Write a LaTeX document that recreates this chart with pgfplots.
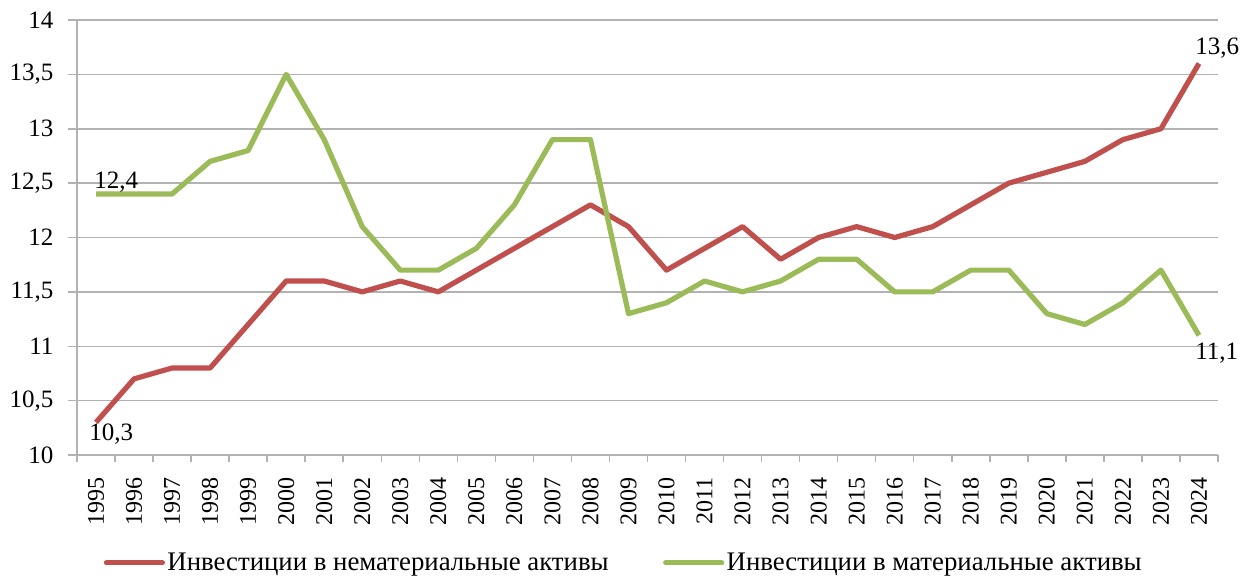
\documentclass[border=0pt]{standalone}
\usepackage{fontspec}
\setmainfont{Liberation Serif}
\usepackage{pgfplots}
\pgfplotsset{compat=1.18}
\definecolor{redl}{RGB}{192,80,77}
\definecolor{greenl}{RGB}{155,187,89}
\definecolor{gridc}{RGB}{178,178,178}
\begin{document}
\begin{tikzpicture}[x=1pt,y=1pt]
\path[use as bounding box] (-38.5,-62) rectangle (586,227.5);
\begin{axis}[
  at={(0,0)}, anchor=south west,
  scale only axis, width=570.5pt, height=217.5pt,
  xmin=-0.5, xmax=29.5, ymin=10, ymax=14,
  xtick={0,...,29},
  xticklabels={1995,1996,1997,1998,1999,2000,2001,2002,2003,2004,2005,2006,2007,2008,2009,2010,2011,2012,2013,2014,2015,2016,2017,2018,2019,2020,2021,2022,2023,2024},
  minor xtick={-0.5,0.5,...,29.5},
  major x tick style={draw=none},
  ytick={10,10.5,11,11.5,12,12.5,13,13.5,14},
  yticklabels={10,{10,5},11,{11,5},12,{12,5},13,{13,5},14},
  tick align=outside, major tick length=4.5pt, minor tick length=3.5pt,
  tick style={gridc, line width=0.75pt},
  ymajorgrids, grid style={gridc, line width=0.75pt},
  axis x line*=bottom, axis y line*=left,
  axis line style={gridc, line width=1pt, -},
  /pgf/number format/assume math mode=true,
  xticklabel shift=3pt,
  xticklabel style={rotate=90, anchor=east, font=\fontsize{12}{12}\selectfont},
  yticklabel style={xshift=-3.8pt, font=\fontsize{12.5}{12.5}\selectfont},
  legend style={at={(0.4794,-0.248)}, anchor=center, draw=none, fill=none,
    legend columns=2, font=\fontsize{13.4}{13.4}\selectfont,
    nodes={inner sep=1.2pt},
    /tikz/every even column/.append style={column sep=26pt}},
  legend image code/.code={\draw[#1, line cap=round] (0pt,0pt) -- (28pt,0pt);},
  clip=false,
]
\addplot[redl, line width=2.6pt, line join=round] coordinates {
(0,10.3)(1,10.7)(2,10.8)(3,10.8)(4,11.2)(5,11.6)(6,11.6)(7,11.5)(8,11.6)(9,11.5)
(10,11.7)(11,11.9)(12,12.1)(13,12.3)(14,12.1)(15,11.7)(16,11.9)(17,12.1)(18,11.8)(19,12.0)
(20,12.1)(21,12.0)(22,12.1)(23,12.3)(24,12.5)(25,12.6)(26,12.7)(27,12.9)(28,13.0)(29,13.6)};
\addlegendentry{Инвестиции в нематериальные активы}
\addplot[greenl, line width=2.6pt, line join=round] coordinates {
(0,12.4)(1,12.4)(2,12.4)(3,12.7)(4,12.8)(5,13.5)(6,12.9)(7,12.1)(8,11.7)(9,11.7)
(10,11.9)(11,12.3)(12,12.9)(13,12.9)(14,11.3)(15,11.4)(16,11.6)(17,11.5)(18,11.6)(19,11.8)
(20,11.8)(21,11.5)(22,11.5)(23,11.7)(24,11.7)(25,11.3)(26,11.2)(27,11.4)(28,11.7)(29,11.1)};
\addlegendentry{Инвестиции в материальные активы}
\node[anchor=base west, inner sep=0pt, font=\fontsize{12.5}{12.5}\selectfont, xshift=-1pt, yshift=3pt] at (axis cs:0,12.4) {12,4};
\node[anchor=base west, inner sep=0pt, font=\fontsize{12.5}{12.5}\selectfont, xshift=-3.5pt, yshift=-9pt] at (axis cs:0,10.3) {10,3};
\node[anchor=base west, inner sep=0pt, font=\fontsize{12.5}{12.5}\selectfont, xshift=-2pt, yshift=4.75pt] at (axis cs:29,13.6) {13,6};
\node[anchor=base west, inner sep=0pt, font=\fontsize{12.5}{12.5}\selectfont, xshift=-2pt, yshift=-12pt] at (axis cs:29,11.1) {11,1};
\end{axis}
\end{tikzpicture}
\end{document}
